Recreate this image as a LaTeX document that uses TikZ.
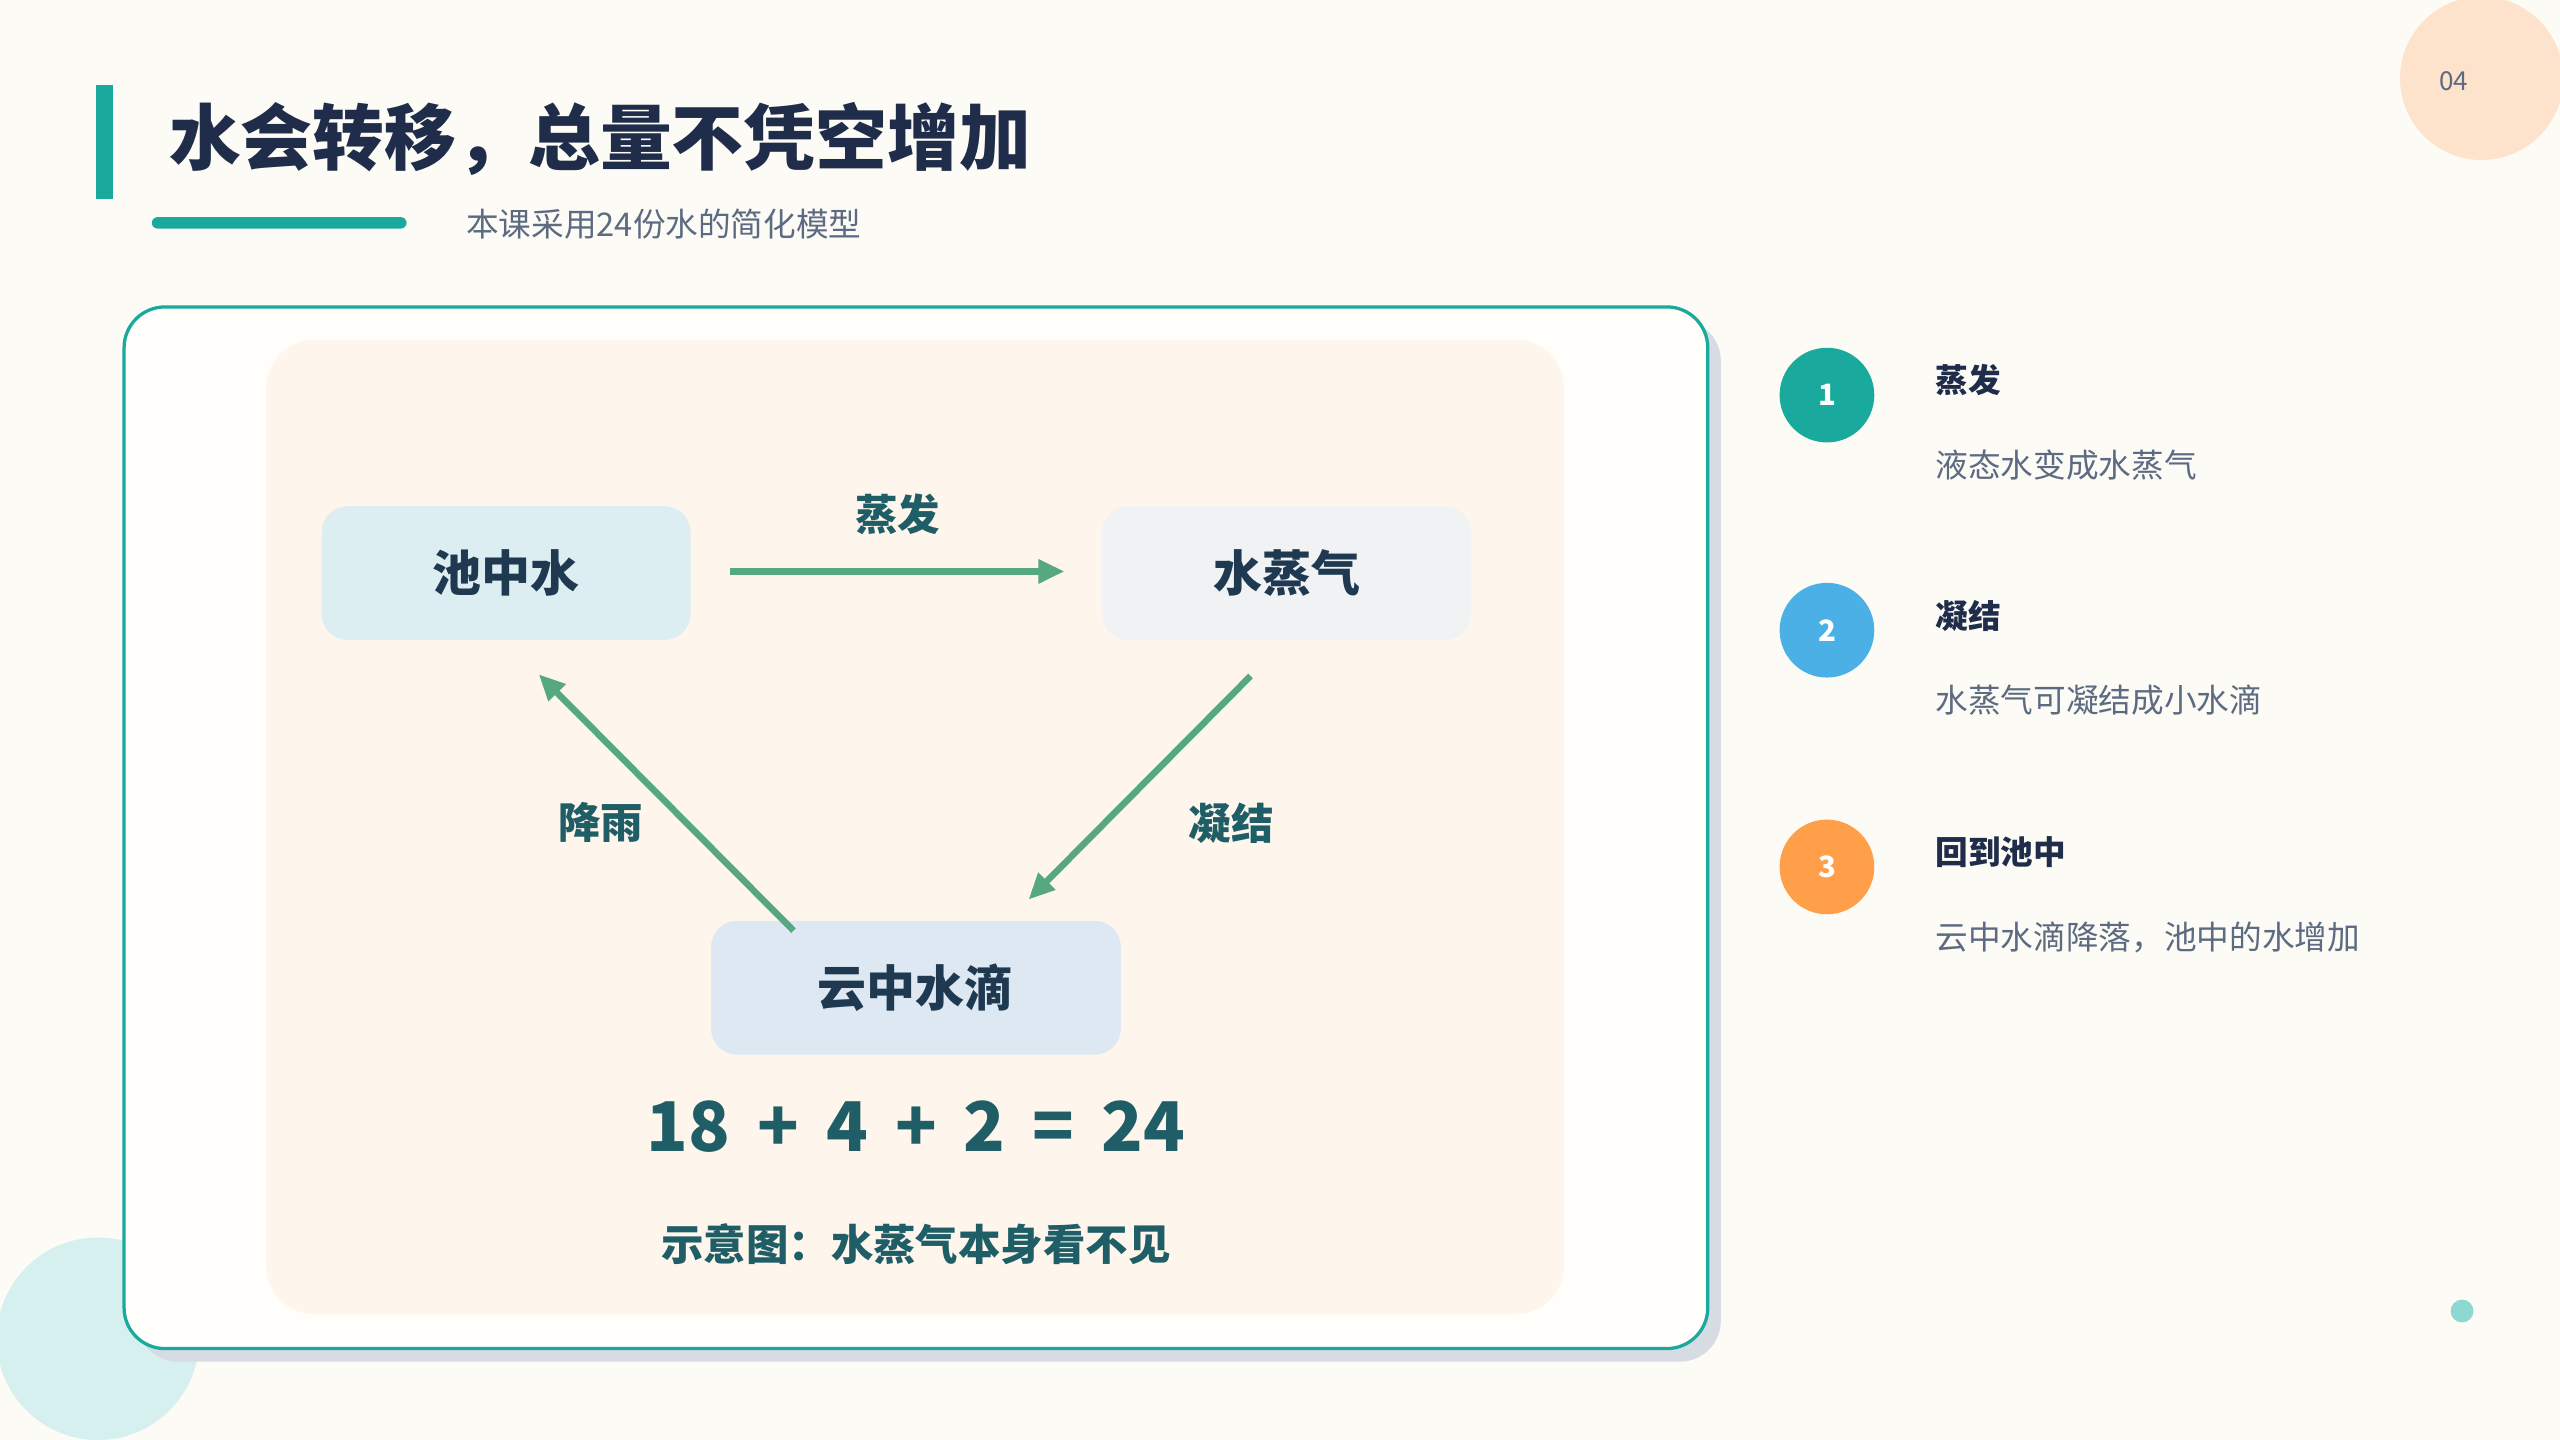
\documentclass[tikz,border=0pt]{standalone}
\usepackage{fontspec}
\setmainfont{Noto Sans CJK SC}
\usetikzlibrary{arrows.meta}
\definecolor{bg}{HTML}{FDFBF5}
\definecolor{teal}{HTML}{1AA99D}
\definecolor{navy}{HTML}{1F2D4A}
\definecolor{gray1}{HTML}{5D6B82}
\definecolor{arr}{HTML}{55A882}
\definecolor{dk}{HTML}{1F5E66}
\definecolor{nodetxt}{HTML}{1F3A50}
\tikzset{
 fs/.style={font=\fontsize{#1}{#1}\selectfont},
 box/.style={rounded corners=16pt,minimum width=226pt,minimum height=82pt,inner sep=0pt,text=nodetxt,font=\fontsize{30}{30}\selectfont\bfseries},
 flow/.style={draw=arr,line width=4pt,-{Triangle[length=16pt,width=14pt]}},
 lab/.style={text=dk,font=\fontsize{26}{26}\selectfont\bfseries},
 num/.style={circle,minimum size=58pt,inner sep=0pt,text=white,font=\fontsize{18}{18}\selectfont\bfseries},
 head/.style={anchor=west,text=navy,font=\fontsize{20}{20}\selectfont\bfseries},
 desc/.style={anchor=west,text=gray1,font=\fontsize{20}{20}\selectfont},
}
\begin{document}
\begin{tikzpicture}[x=1pt,y=-1pt]
\useasboundingbox[fill=bg] (0,0) rectangle (1568,882);
\begin{scope}
\clip (0,0) rectangle (1568,882);
\fill[fill={rgb,255:red,253;green,227;blue,204}] (1520,48) circle (50);
\fill[fill={rgb,255:red,213;green,240;blue,238}] (60,820) circle (62);
\end{scope}
\node[text=gray1,fs=16] (pg) at (1503,50) {04};
\fill[fill={rgb,255:red,142;green,216;blue,210}] (1508,803) circle (7);
\fill[teal] (59,52) rectangle (69,122);
\node[anchor=west,text=navy,font=\fontsize{44}{44}\selectfont\bfseries] (title) at (100,85) {水会转移，总量不凭空增加};
\fill[teal,rounded corners=3.5pt] (93,133) rectangle (249,140);
\node[anchor=west,text=gray1,fs=20] (sub) at (282,137) {本课采用24份水的简化模型};
\fill[fill={rgb,255:red,215;green,219;blue,228},rounded corners=25pt] (84,196) rectangle (1054,834);
\draw[teal,line width=2pt,fill={rgb,255:red,255;green,254;blue,250},rounded corners=25pt] (76,188) rectangle (1046,826);
\fill[fill={rgb,255:red,254;green,246;blue,236},rounded corners=30pt] (163,208) rectangle (958,805);
\node[box,fill={rgb,255:red,221;green,238;blue,243}] (pool) at (310,351) {池中水};
\node[box,fill={rgb,255:red,240;green,242;blue,243}] (vap) at (788,351) {水蒸气};
\node[box,minimum width=251pt,fill={rgb,255:red,221;green,232;blue,243}] (cloud) at (561,605) {云中水滴};
\coordinate (a1) at (447,350); \coordinate (a2) at (652,350);
\coordinate (b1) at (766,414); \coordinate (b2) at (630,551);
\coordinate (c1) at (486,570); \coordinate (c2) at (330,413);
\draw[flow] (a1) -- (a2);
\draw[flow] (b1) -- (b2);
\draw[flow] (c1) -- (c2);
\node[lab] (l1) at (550,315) {蒸发};
\node[lab] (l2) at (754,504) {凝结};
\node[lab] (l3) at (368,504) {降雨};
\node[text=dk,font=\fontsize{42}{42}\selectfont\bfseries] (eq) at (561,690) {18 \,+\, 4 \,+\, 2 \,=\, 24};
\node[lab] (note) at (561,762) {示意图：水蒸气本身看不见};
\node[num,fill=teal] (n1) at (1119,242) {1};
\node[num,fill={rgb,255:red,75;green,176;blue,230}] (n2) at (1119,386) {2};
\node[num,fill={rgb,255:red,255;green,159;blue,74}] (n3) at (1119,531) {3};
\node[head] (h1) at (1182,233) {蒸发};
\node[desc] (d1) at (1182,285) {液态水变成水蒸气};
\node[head] (h2) at (1182,377) {凝结};
\node[desc] (d2) at (1182,429) {水蒸气可凝结成小水滴};
\node[head] (h3) at (1182,522) {回到池中};
\node[desc] (d3) at (1182,574) {云中水滴降落，池中的水增加};
\end{tikzpicture}
\end{document}
